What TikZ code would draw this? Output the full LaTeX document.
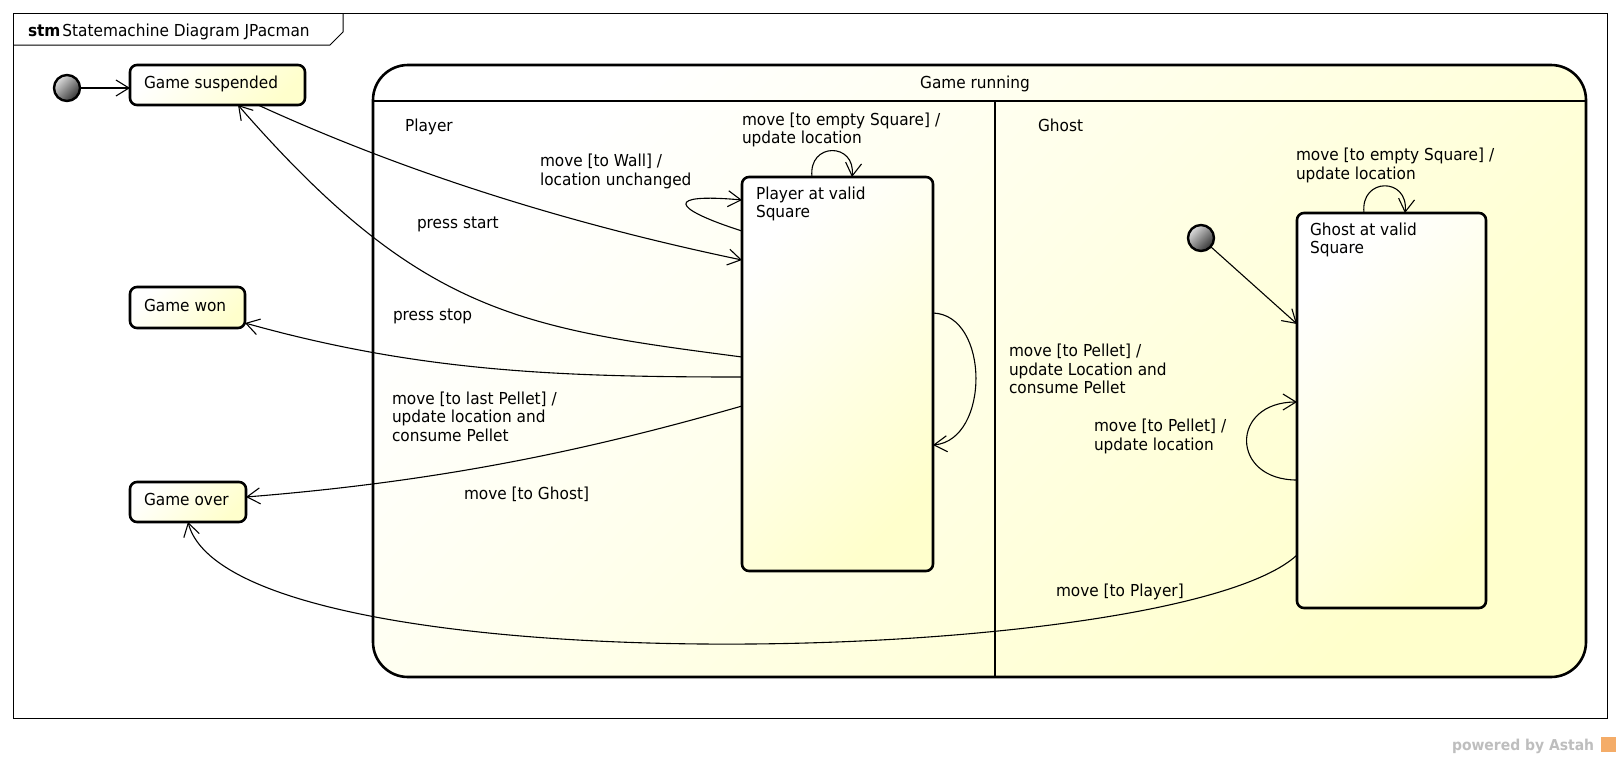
\documentclass[tikz,border=0pt]{standalone}
\usepackage{fontspec}
\setmainfont{DejaVu Sans}[FakeStretch=0.93]
\usetikzlibrary{arrows.meta,calc}
\definecolor{ylw}{RGB}{255,255,204}
\definecolor{powgray}{RGB}{190,190,190}
\definecolor{logoorange}{RGB}{244,172,104}
\begin{document}
\begin{tikzpicture}[x=1pt,y=-1pt,
  txt/.style={font=\fontsize{16.5}{18.5}\selectfont, inner sep=0pt, outer sep=0pt, anchor=base west, align=left},
  statebox/.style={draw=black, line width=2.6pt, rounded corners=7pt, inner sep=0pt, outer sep=0pt, anchor=north west, top color=white, bottom color=ylw, shading angle=45},
  initst/.style={circle, draw=black, line width=2.4pt, minimum size=26pt, inner sep=0pt, outer sep=0pt, top color=gray!25, bottom color=black!80, shading angle=45},
  trans/.style={draw=black, line width=1.1pt, -{Straight Barb[length=13pt,width=16pt]}},
  ]
\useasboundingbox (0,0) rectangle (1620,758);
\fill[white] (0,0) rectangle (1620,758);
% frame
\draw[line width=1pt] (13,13) rectangle (1607,718);
\draw[line width=1pt] (13,45) -- (330,45) -- (343,32) -- (343,13);
\node[txt] (title) at (28,36.5) {\textbf{stm}\kern2pt Statemachine Diagram JPacman};
% composite state
\node[statebox, rounded corners=35pt, minimum width=1213pt, minimum height=612pt] (gr) at (373,65) {};
\draw[line width=1.2pt] (373,101) -- (1586,101);
\draw[line width=1.2pt] (995,101) -- (995,677);
\node[txt, anchor=base] (t-gr) at (975,88) {Game running};
\node[txt] (t-player) at (405,131.5) {Player};
\node[txt] (t-ghost) at (1038,131.5) {Ghost};
% simple states
\node[statebox, minimum width=175pt, minimum height=40pt] (gs) at (130,65) {};
\node[txt] (t-gs) at (144,88) {Game suspended};
\node[statebox, minimum width=115pt, minimum height=41pt] (gw) at (130,287) {};
\node[txt] (t-gw) at (144,311) {Game won};
\node[statebox, minimum width=116pt, minimum height=40pt] (go) at (130,482) {};
\node[txt] (t-go) at (144,505.5) {Game over};
\node[statebox, minimum width=191pt, minimum height=394pt] (pv) at (742,177) {};
\node[txt] (t-pv) at (756,217.5) {Player at valid\\Square};
\node[statebox, minimum width=189pt, minimum height=395pt] (gv) at (1297,213) {};
\node[txt] (t-gv) at (1310,253.5) {Ghost at valid\\Square};
% initial pseudostates
\node[initst] (i1) at (67,88) {};
\node[initst] (i2) at (1201,238) {};
% transitions
\draw[trans] (i1.east) -- (i1.east -| gs.west);
\draw[trans] (i2) -- ([yshift=-111pt]gv.north west);
\draw[trans] ([xshift=128pt]gs.south west) .. controls (400,170) and (560,222) .. ([yshift=-83pt]pv.north west);
\draw[trans] ([yshift=-180pt]pv.north west) .. controls (520,328) and (420,314) .. ([xshift=108pt]gs.south west);
\draw[trans] ([yshift=-200pt]pv.north west) .. controls (560,377) and (420,372) .. ([yshift=5pt]gw.south east);
\draw[trans] ([yshift=-229pt]pv.north west) .. controls (592,449) and (446,481) .. ([yshift=5pt]go.east);
\draw[trans] ([yshift=-54pt]pv.north west) .. controls (670,208) and (665,193) .. ([yshift=-23pt]pv.north west);
\draw[trans] ([xshift=70pt]pv.north west) .. controls (808,142) and (856,142) .. ([xshift=110pt]pv.north west);
\draw[trans] ([yshift=-136pt]pv.north east) .. controls (990,315) and (990,440) .. ([yshift=-268pt]pv.north east);
\draw[trans] ([xshift=67pt]gv.north west) .. controls (1360,177) and (1409,177) .. ([xshift=108pt]gv.north west);
\draw[trans] ([yshift=-267pt]gv.north west) .. controls (1230,480) and (1230,402) .. ([yshift=-189pt]gv.north west);
\draw[trans] ([yshift=-342pt]gv.north west) .. controls (1176,668) and (232,690) .. ([xshift=58pt]go.south west);
% labels
\node[txt] (l-start) at (417,228) {press start};
\node[txt] (l-stop) at (393,320.5) {press stop};
\node[txt] (l-won) at (392,441) {move [to last Pellet] /\\update location and\\consume Pellet};
\node[txt] (l-over) at (464,499) {move [to Ghost]};
\node[txt] (l-wall) at (540,185) {move [to Wall] /\\location unchanged};
\node[txt] (l-pempty) at (742,143.5) {move [to empty Square] /\\update location};
\node[txt] (l-ppellet) at (1009,393.5) {move [to Pellet] /\\update Location and\\consume Pellet};
\node[txt] (l-gempty) at (1296,179) {move [to empty Square] /\\update location};
\node[txt] (l-gpellet) at (1094,450) {move [to Pellet] /\\update location};
\node[txt] (l-player) at (1056,596.5) {move [to Player]};
% footer
\node[txt, font=\bfseries\fontsize{15}{17}\selectfont, text=powgray] (powered) at (1452,750.5) {powered by Astah};
\fill[logoorange] (1601,737) rectangle (1616,752);
\end{tikzpicture}
\end{document}
